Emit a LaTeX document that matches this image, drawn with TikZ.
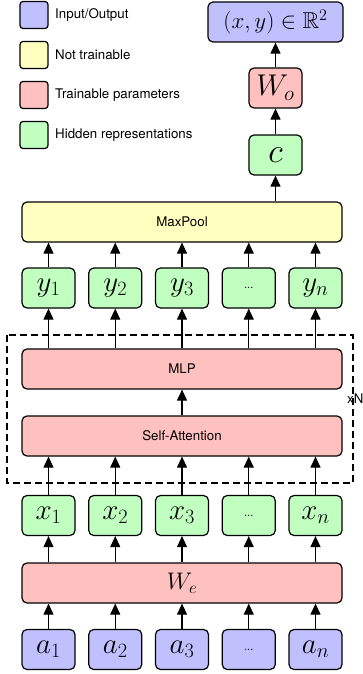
\RequirePackage{fix-cm}
\documentclass[tikz,border=0pt]{standalone}
\usepackage{amsmath}
\usepackage{amssymb}
\usepackage{fontspec}
\setsansfont{TeX Gyre Heros}
\usepackage{xcolor}
\usetikzlibrary{arrows.meta}
\definecolor{iocol}{RGB}{192,192,255}
\definecolor{fixcol}{RGB}{255,255,192}
\definecolor{traincol}{RGB}{255,192,192}
\definecolor{hidcol}{RGB}{192,255,192}

\begin{document}
\begin{tikzpicture}[x=1pt,y=-1pt,
  box/.style={draw,rounded corners=5pt,line width=1.2pt,inner sep=0pt,minimum height=40pt},
  tok/.style={box,minimum width=53pt},
  wide/.style={box,minimum width=320pt},
  key/.style={draw,rounded corners=3pt,line width=1.2pt,minimum width=28pt,minimum height=27pt,inner sep=0pt},
  lbl/.style={font=\sffamily\fontsize{13.3}{15}\selectfont},
  sym/.style={font=\fontsize{29}{31}\selectfont},
  dots/.style={font=\sffamily\fontsize{11}{13}\selectfont},
  arr/.style={-{Triangle[length=11pt,width=10pt]},line width=1.1pt}]
\useasboundingbox (0,0) rectangle (362,674);
\node[key,fill=iocol] (keyio) at (34,15) {};
\node[lbl,anchor=west,inner sep=0pt] (keyiot) at (55,15) {Input/Output};
\node[key,fill=fixcol] (keyfix) at (34,55) {};
\node[lbl,anchor=west,inner sep=0pt] (keyfixt) at (55,55) {Not trainable};
\node[key,fill=traincol] (keytrain) at (34,95) {};
\node[lbl,anchor=west,inner sep=0pt] (keytraint) at (55,95) {Trainable parameters};
\node[key,fill=hidcol] (keyhid) at (34,135) {};
\node[lbl,anchor=west,inner sep=0pt] (keyhidt) at (55,135) {Hidden representations};

\node[box,fill=iocol,minimum width=135pt,font=\fontsize{23}{25}\selectfont] (out) at (275.5,22) {$(x,y)\in\mathbb{R}^2$};
\node[tok,fill=traincol,font=\fontsize{30}{32}\selectfont] (wo) at (275.5,88) {$W_o$};
\node[tok,fill=hidcol,font=\fontsize{34}{36}\selectfont] (c) at (275.5,155) {$c$};
\node[wide,fill=fixcol,lbl] (pool) at (182,222) {MaxPool};

\node[tok,fill=hidcol,sym] (y1) at (48.5,288) {$y_1$};
\node[tok,fill=hidcol,sym] (y2) at (115.25,288) {$y_2$};
\node[tok,fill=hidcol,sym] (y3) at (182,288) {$y_3$};
\node[tok,fill=hidcol,dots] (y4) at (248.75,288) {...};
\node[tok,fill=hidcol,sym] (yn) at (315.5,288) {$y_n$};

\draw[line width=1.2pt,dash pattern=on 7pt off 4pt] (7,335) rectangle (353,483);
\node[lbl,anchor=west,inner sep=0pt] (rep) at (347,399) {xN};
\node[wide,fill=traincol,lbl] (mlp) at (182,369) {MLP};
\node[wide,fill=traincol,lbl] (att) at (182,436) {Self-Attention};

\node[tok,fill=hidcol,sym] (x1) at (48.5,515.5) {$x_1$};
\node[tok,fill=hidcol,sym] (x2) at (115.25,515.5) {$x_2$};
\node[tok,fill=hidcol,sym] (x3) at (182,515.5) {$x_3$};
\node[tok,fill=hidcol,dots] (x4) at (248.75,515.5) {...};
\node[tok,fill=hidcol,sym] (xn) at (315.5,515.5) {$x_n$};
\node[wide,fill=traincol,font=\fontsize{24}{26}\selectfont] (we) at (182,583) {$W_e$};

\node[tok,fill=iocol,sym] (a1) at (48.5,649.5) {$a_1$};
\node[tok,fill=iocol,sym] (a2) at (115.25,649.5) {$a_2$};
\node[tok,fill=iocol,sym] (a3) at (182,649.5) {$a_3$};
\node[tok,fill=iocol,dots] (a4) at (248.75,649.5) {...};
\node[tok,fill=iocol,sym] (an) at (315.5,649.5) {$a_n$};

\draw[arr] (a1.north) -- (a1.north |- we.south);
\draw[arr] (a2.north) -- (a2.north |- we.south);
\draw[arr] (a3.north) -- (a3.north |- we.south);
\draw[arr] (a4.north) -- (a4.north |- we.south);
\draw[arr] (an.north) -- (an.north |- we.south);
\draw[arr] (x1.south |- we.north) -- (x1.south);
\draw[arr] (x2.south |- we.north) -- (x2.south);
\draw[arr] (x3.south |- we.north) -- (x3.south);
\draw[arr] (x4.south |- we.north) -- (x4.south);
\draw[arr] (xn.south |- we.north) -- (xn.south);
\draw[arr] (x1.north) -- (x1.north |- att.south);
\draw[arr] (x2.north) -- (x2.north |- att.south);
\draw[arr] (x3.north) -- (x3.north |- att.south);
\draw[arr] (x4.north) -- (x4.north |- att.south);
\draw[arr] (xn.north) -- (xn.north |- att.south);
\draw[arr] (att.north) -- (mlp.south);
\draw[arr] (y1.south |- mlp.north) -- (y1.south);
\draw[arr] (y2.south |- mlp.north) -- (y2.south);
\draw[arr] (y3.south |- mlp.north) -- (y3.south);
\draw[arr] (y4.south |- mlp.north) -- (y4.south);
\draw[arr] (yn.south |- mlp.north) -- (yn.south);
\draw[arr] (y1.north) -- (y1.north |- pool.south);
\draw[arr] (y2.north) -- (y2.north |- pool.south);
\draw[arr] (y3.north) -- (y3.north |- pool.south);
\draw[arr] (y4.north) -- (y4.north |- pool.south);
\draw[arr] (yn.north) -- (yn.north |- pool.south);
\draw[arr] (c.south |- pool.north) -- (c.south);
\draw[arr] (c.north) -- (wo.south);
\draw[arr] (wo.north) -- (out.south);
\end{tikzpicture}
\end{document}
